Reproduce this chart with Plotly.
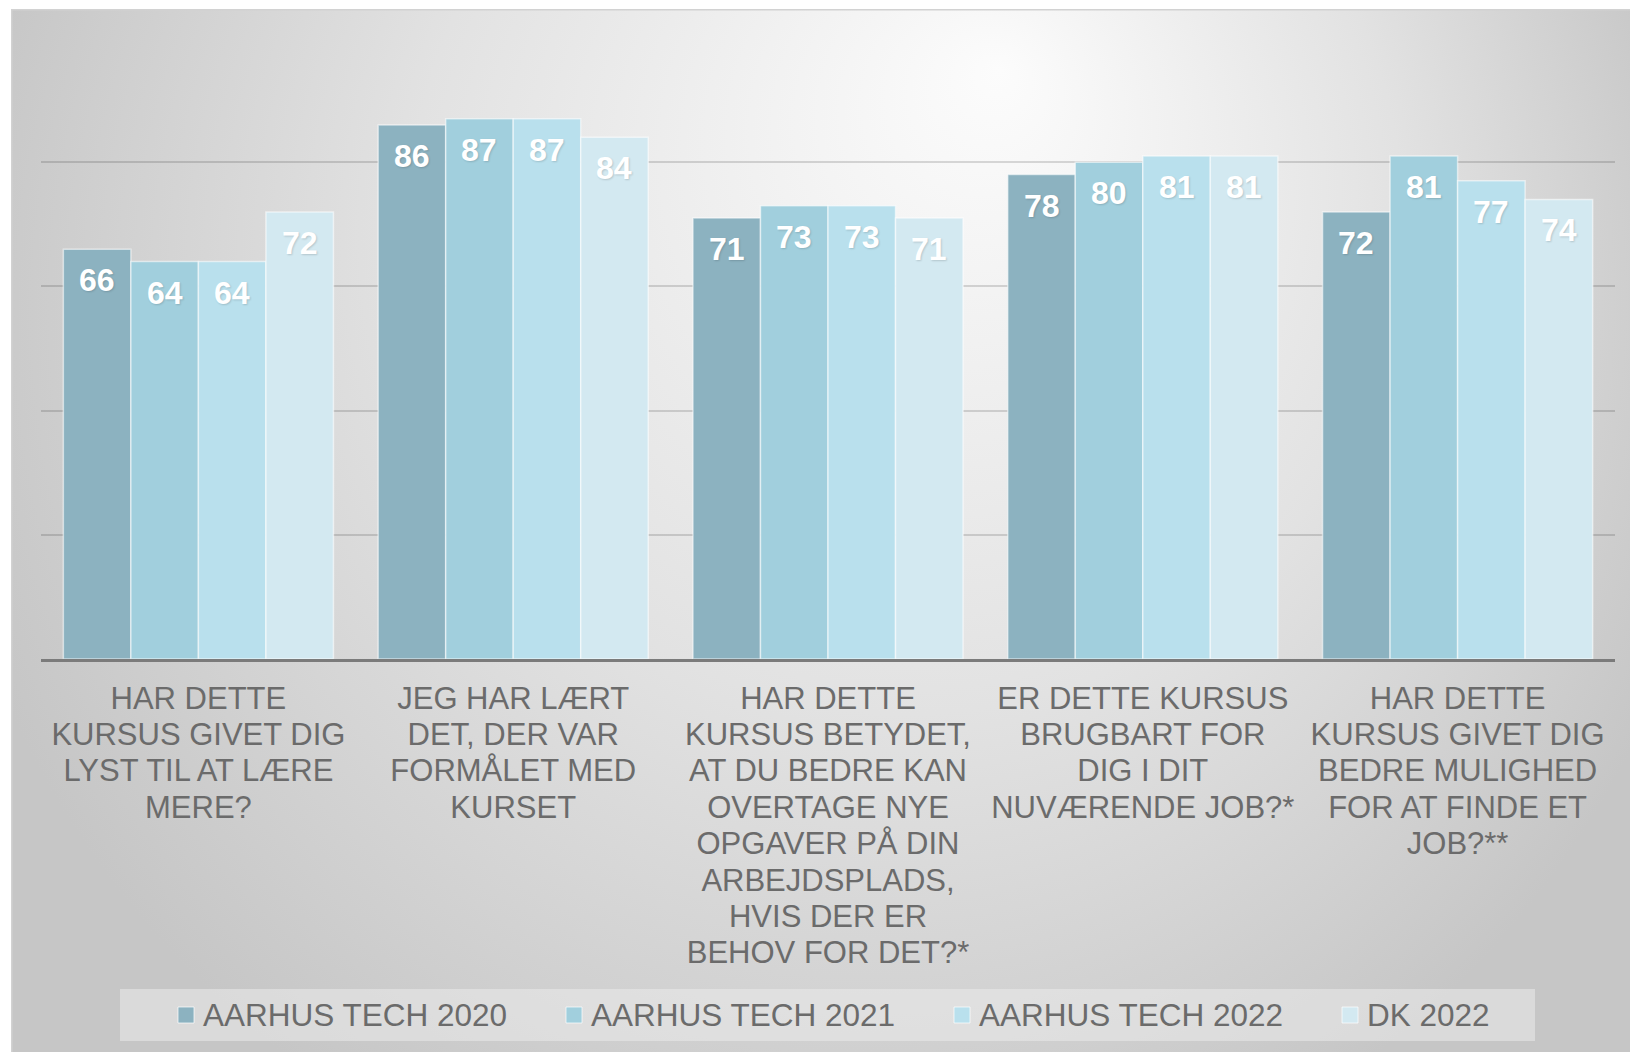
import base64
import plotly.graph_objects as go

categories = [
    "HAR DETTE<br>KURSUS GIVET DIG<br>LYST TIL AT LÆRE<br>MERE?",
    "JEG HAR LÆRT<br>DET, DER VAR<br>FORMÅLET MED<br>KURSET",
    "HAR DETTE<br>KURSUS BETYDET,<br>AT DU BEDRE KAN<br>OVERTAGE NYE<br>OPGAVER PÅ DIN<br>ARBEJDSPLADS,<br>HVIS DER ER<br>BEHOV FOR DET?*",
    "ER DETTE KURSUS<br>BRUGBART FOR<br>DIG I DIT<br>NUVÆRENDE JOB?*",
    "HAR DETTE<br>KURSUS GIVET DIG<br>BEDRE MULIGHED<br>FOR AT FINDE ET<br>JOB?**",
]
series_names = ["AARHUS TECH 2020", "AARHUS TECH 2021", "AARHUS TECH 2022", "DK 2022"]
aarhus_2020 = [66, 86, 71, 78, 72]
aarhus_2021 = [64, 87, 73, 80, 81]
aarhus_2022 = [64, 87, 73, 81, 77]
dk_2022 = [72, 84, 71, 81, 74]
series_values = [aarhus_2020, aarhus_2021, aarhus_2022, dk_2022]
colors = ["#8cb2c0", "#a1cfdd", "#b9e0ed", "#d3e9f1"]

W, H = 1630, 1052
ML, MR, MT, MB = 41, 15, 38, 393
PW = W - ML - MR
PH = H - MT - MB
BARGAP = 0.142
FONT = "Arial, Liberation Sans, sans-serif"
GREY = "#6b6b6b"


def px_x(px):
    return (px - ML) / PW


def px_y(py):
    return (H - MB - py) / PH


# background gradient frame (SVG)
FX0, FY0 = 11, 9
FW, FH = W - FX0, H - FY0
svg = f'''<svg xmlns="http://www.w3.org/2000/svg" width="{FW}" height="{FH}" viewBox="0 0 {FW} {FH}">
<defs><radialGradient id="g" gradientUnits="userSpaceOnUse" cx="{830-FX0}" cy="{340-FY0}" r="900" fx="{1000-FX0}" fy="{70-FY0}">
<stop offset="0" stop-color="#fcfcfc"/><stop offset="0.55" stop-color="#e2e2e2"/><stop offset="1" stop-color="#c6c6c6"/>
</radialGradient></defs>
<rect x="0" y="0" width="{FW}" height="{FH}" fill="url(#g)"/>
<rect x="0.75" y="0.75" width="{FW+5}" height="{FH+5}" fill="none" stroke="#d2d2d2" stroke-width="1.5"/>
</svg>'''
src = "data:image/svg+xml;base64," + base64.b64encode(svg.encode()).decode()

fig = go.Figure()
for name, vals, col in zip(series_names, series_values, colors):
    fig.add_trace(go.Bar(
        name=name, x=categories, y=vals,
        marker=dict(color=col, line=dict(color="rgba(255,255,255,0.55)", width=1.5)),
        hoverinfo="skip", showlegend=False,
    ))

annotations = []
# value labels: anchored at each bar's value, shifted to its slot within the group
n_series = len(series_values)
bar_px = PW / len(categories) * (1 - BARGAP) / n_series
for i, vals in enumerate(series_values):
    for cat, v in zip(categories, vals):
        annotations.append(dict(
            x=cat, y=v, xref="x", yref="y", text=str(v), showarrow=False,
            xanchor="center", yanchor="middle",
            xshift=(i - (n_series - 1) / 2) * bar_px, yshift=-31,
            font=dict(family=FONT, size=32, color="white", weight=700,
                      shadow="1px 1px 2px rgba(0,0,0,0.15)"),
        ))

# manual legend (Excel-style evenly spaced entries inside a light box)
LEG_X0, LEG_STEP, LEG_CY = 178, 388, 1015
shapes = [dict(
    type="rect", xref="paper", yref="paper",
    x0=px_x(120), x1=px_x(1535), y0=px_y(1041), y1=px_y(989),
    fillcolor="rgba(235,235,235,0.55)", line=dict(width=0), layer="below",
)]
for i, (name, col) in enumerate(zip(series_names, colors)):
    mx = LEG_X0 + i * LEG_STEP
    shapes.append(dict(
        type="rect", xref="paper", yref="paper",
        x0=px_x(mx), x1=px_x(mx + 16), y0=px_y(LEG_CY + 8), y1=px_y(LEG_CY - 8),
        fillcolor=col, line=dict(color="rgba(255,255,255,0.7)", width=1), layer="above",
    ))
    annotations.append(dict(
        text=name, xref="paper", yref="paper", x=px_x(mx + 23), y=px_y(LEG_CY),
        xanchor="left", yanchor="middle", showarrow=False,
        font=dict(family=FONT, size=31.5, color=GREY),
    ))

# tick labels: glyphs at 31px on a 28px line pitch (tighter Excel-like leading)
ticktext = ["<br>".join(f"<span style='font-size:31px'>{ln}</span>" for ln in c.split("<br>"))
            for c in categories]

fig.update_layout(
    width=W, height=H, autosize=False,
    margin=dict(l=ML, r=MR, t=MT, b=MB, pad=0),
    paper_bgcolor="white", plot_bgcolor="rgba(0,0,0,0)",
    barmode="group", bargap=BARGAP, bargroupgap=0,
    font=dict(family=FONT, color=GREY),
    showlegend=False,
    xaxis=dict(
        showgrid=False, showline=True, linecolor="#7b7b7b", linewidth=3,
        ticks="", tickfont=dict(size=28, color=GREY), ticklabelstandoff=13,
        tickmode="array", tickvals=categories, ticktext=ticktext,
        fixedrange=True, automargin=False,
    ),
    yaxis=dict(
        range=[0, 100], dtick=20, showgrid=True, gridcolor="rgba(0,0,0,0.14)", gridwidth=2,
        showticklabels=False, zeroline=False, showline=False, ticks="", fixedrange=True,
        automargin=False,
    ),
    images=[dict(
        source=src, xref="paper", yref="paper",
        x=px_x(FX0), y=px_y(FY0), sizex=FW / PW, sizey=FH / PH,
        xanchor="left", yanchor="top", sizing="stretch", layer="below",
    )],
    shapes=shapes,
    annotations=annotations,
)

fig.write_html(
    "out.html",
    config={"displayModeBar": False},
    post_script="document.body.style.margin='0px';document.body.style.overflow='hidden';",
)
